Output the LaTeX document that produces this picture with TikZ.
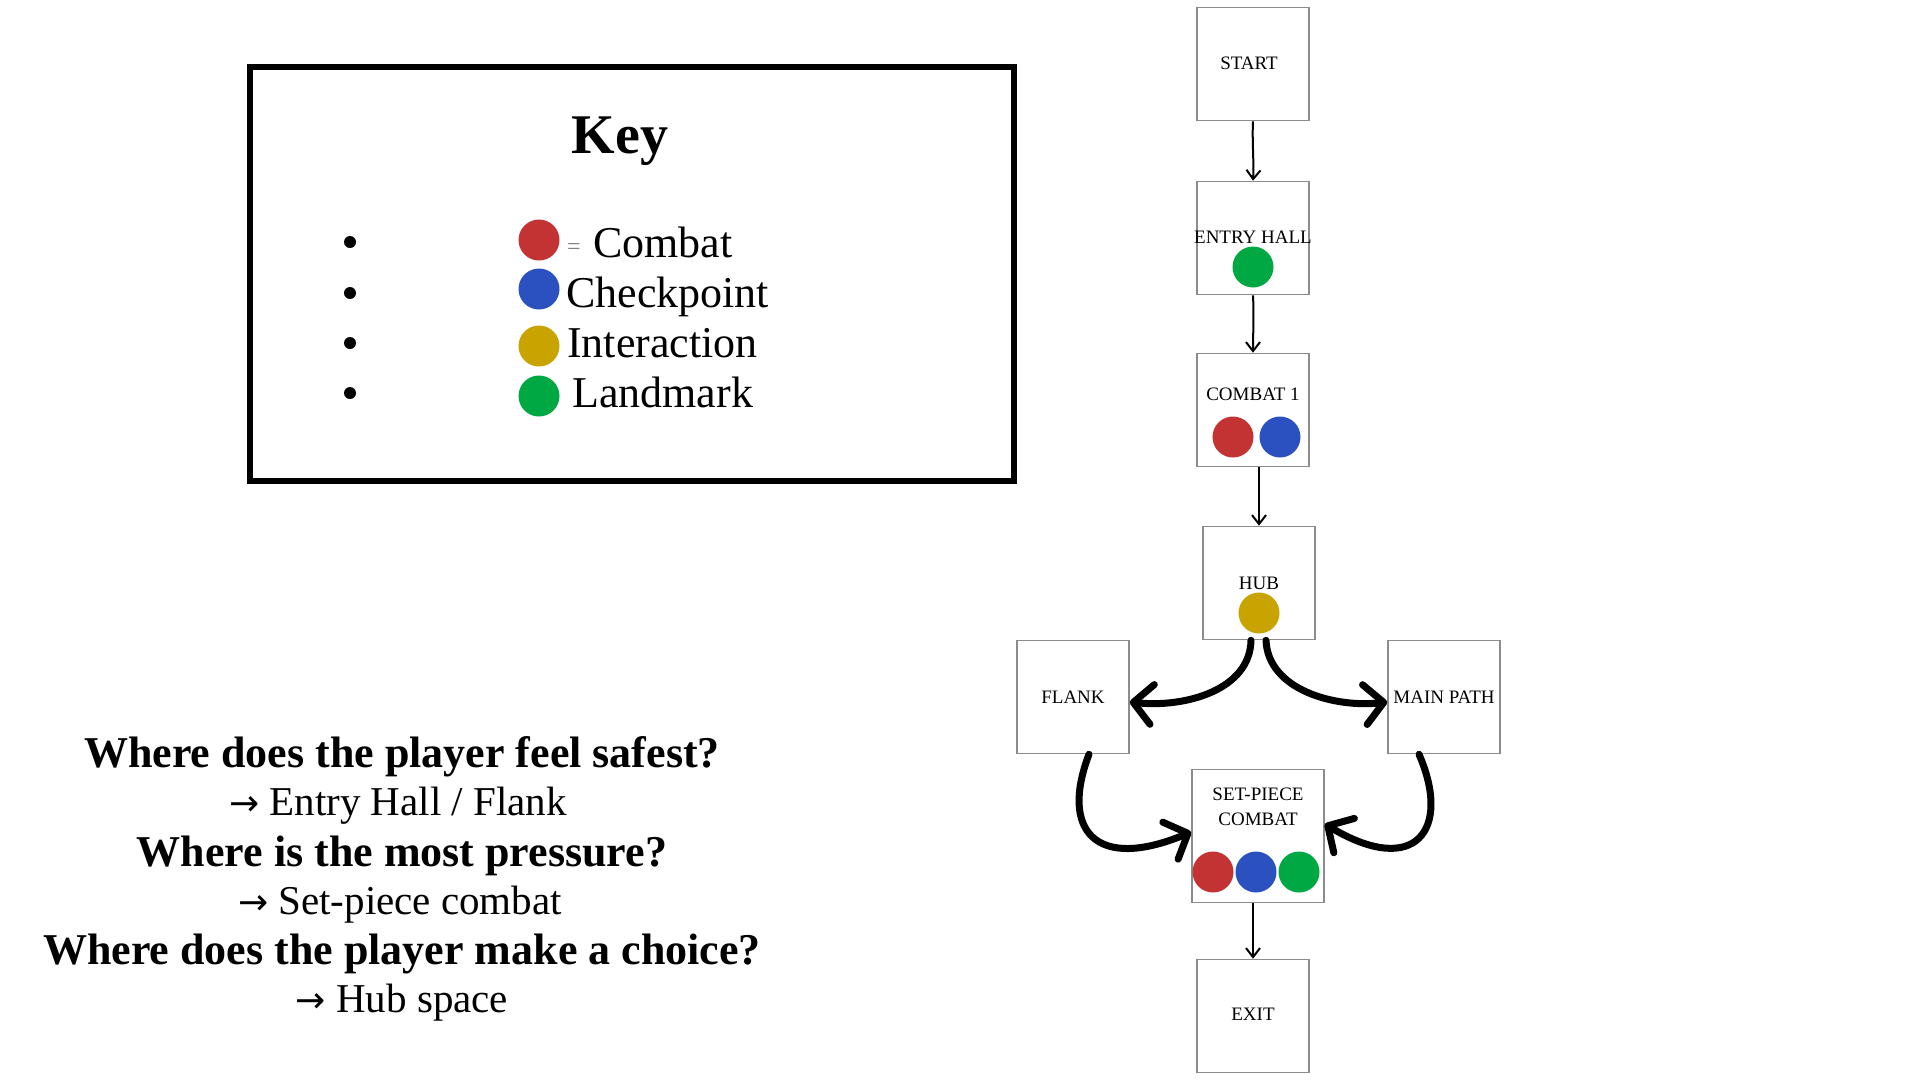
\documentclass[tikz,border=0pt]{standalone}
\usepackage{fontspec}
\setmainfont{Liberation Serif}
\newfontfamily\arrfont{DejaVu Sans}
\usetikzlibrary{arrows.meta}
\definecolor{cred}{HTML}{C33333}
\definecolor{cblue}{HTML}{2B50BF}
\definecolor{cyel}{HTML}{C9A300}
\definecolor{cgreen}{HTML}{00A843}
\definecolor{boxgray}{HTML}{8C8C8C}
\newcommand{\myarr}{{\arrfont\fontsize{36}{40}\selectfont →}}
\tikzset{
  room/.style={draw=boxgray, line width=1.6pt, fill=white, minimum width=112pt, minimum height=113pt, inner sep=0pt},
  wideroom/.style={room, minimum width=132pt, minimum height=133pt},
  lbl/.style={font=\fontsize{19}{21}\selectfont, inner sep=0pt},
  dot/.style={circle, minimum size=41pt, inner sep=0pt},
  thin/.style={line width=2pt, -{Straight Barb[length=9pt,width=14pt]}},
  thick/.style={line width=7pt, line cap=round, -{Straight Barb[length=19pt,width=40pt,round]}},
  keytxt/.style={font=\fontsize{44}{48}\selectfont, anchor=base west, inner sep=0pt},
  qb/.style={font=\bfseries\fontsize{44}{48}\selectfont, inner sep=0pt},
  qa/.style={font=\fontsize{41}{45}\selectfont, inner sep=0pt},
}
\begin{document}
\begin{tikzpicture}[x=1pt, y=-1pt]
\useasboundingbox (0,0) rectangle (1920,1080);
\fill[white] (0,0) rectangle (1920,1080);

% ---- Key box
\node[draw=black, line width=6pt, minimum width=764pt, minimum height=414pt, inner sep=0pt] (keybox) at (632,274) {};
\node[font=\bfseries\fontsize{56}{60}\selectfont, inner sep=0pt] (keytitle) at (620,141) {Key};
\foreach \yy in {242,293,343,393}{
  \fill (350,\yy) circle (6pt);
}
\node[dot, fill=cred] (kred) at (539,240) {};
\node[dot, fill=cblue] (kblue) at (539,289) {};
\node[dot, fill=cyel] (kyel) at (539,346) {};
\node[dot, fill=cgreen] (kgreen) at (539,396) {};
\node[font=\fontsize{24}{26}\selectfont, text=gray, anchor=base west, inner sep=0pt] (eq) at (567,254) {=};
\node[keytxt] (tcombat) at (593,257) {Combat};
\node[keytxt] (tcheck) at (566,307) {Checkpoint};
\node[keytxt] (tinter) at (567,357) {Interaction};
\node[keytxt] (tland) at (572,407) {Landmark};

% ---- Questions
\node[qb] (q1) at (402,757) {Where does the player feel safest?};
\node[qa] (a1) at (398,806) {\myarr\ Entry Hall / Flank};
\node[qb] (q2) at (402,856) {Where is the most pressure?};
\node[qa] (a2) at (400,905) {\myarr\ Set-piece combat};
\node[qb] (q3) at (402,954) {Where does the player make a choice?};
\node[qa] (a3) at (402,1003) {\myarr\ Hub space};

% ---- Rooms
\node[room] (start) at (1253,64) {};
\node[lbl] at (1249,63) {START};
\node[room] (entry) at (1253,238) {};
\node[lbl] at (1253,237) {ENTRY HALL};
\node[dot, fill=cgreen] (entrydot) at (1253,267) {};
\node[room] (combat1) at (1253,410) {};
\node[lbl] at (1253,394) {COMBAT 1};
\node[dot, fill=cred] (c1red) at (1233,437) {};
\node[dot, fill=cblue] (c1blue) at (1280,437) {};
\node[room] (hub) at (1259,583) {};
\node[lbl] at (1259,583) {HUB};
\node[dot, fill=cyel] (hubdot) at (1259,613) {};
\node[room] (flank) at (1073,697) {};
\node[lbl] at (1073,697) {FLANK};
\node[room] (mainp) at (1444,697) {};
\node[lbl] at (1444,697) {MAIN PATH};
\node[wideroom] (setp) at (1258,836) {};
\node[lbl] at (1258,794) {SET-PIECE};
\node[lbl] at (1258,819) {COMBAT};
\node[dot, fill=cred] (spred) at (1213,872) {};
\node[dot, fill=cblue] (spblue) at (1256,872) {};
\node[dot, fill=cgreen] (spgreen) at (1299,872) {};
\node[room] (exit) at (1253,1016) {};
\node[lbl] at (1253,1014) {EXIT};

% ---- Connectors
\draw[thin] (start.south) .. controls (1252,140) and (1254,160) .. (entry.north);
\draw[thin] (entry.south) .. controls (1254,315) and (1253,335) .. (combat1.north);
\draw[thin] ([xshift=6pt]combat1.south) .. controls (1259,490) and (1259,505) .. (hub.north);
\draw[thin] ([xshift=-5pt]setp.south) .. controls (1253,925) and (1253,940) .. (exit.north);

\draw[thick] ([xshift=-8pt]hub.south) .. controls (1250,690) and (1185,708) .. ([yshift=-5pt]flank.east);
\draw[thick] ([xshift=7pt]hub.south) .. controls (1268,690) and (1335,708) .. ([yshift=-5pt]mainp.west);
\draw[thick] ([xshift=16pt]flank.south) .. controls (1060,830) and (1095,872) .. ([yshift=4pt]setp.west);
\draw[thick] ([xshift=-25pt]mainp.south) .. controls (1452,830) and (1415,878) .. ([yshift=12pt]setp.east);
\end{tikzpicture}
\end{document}
